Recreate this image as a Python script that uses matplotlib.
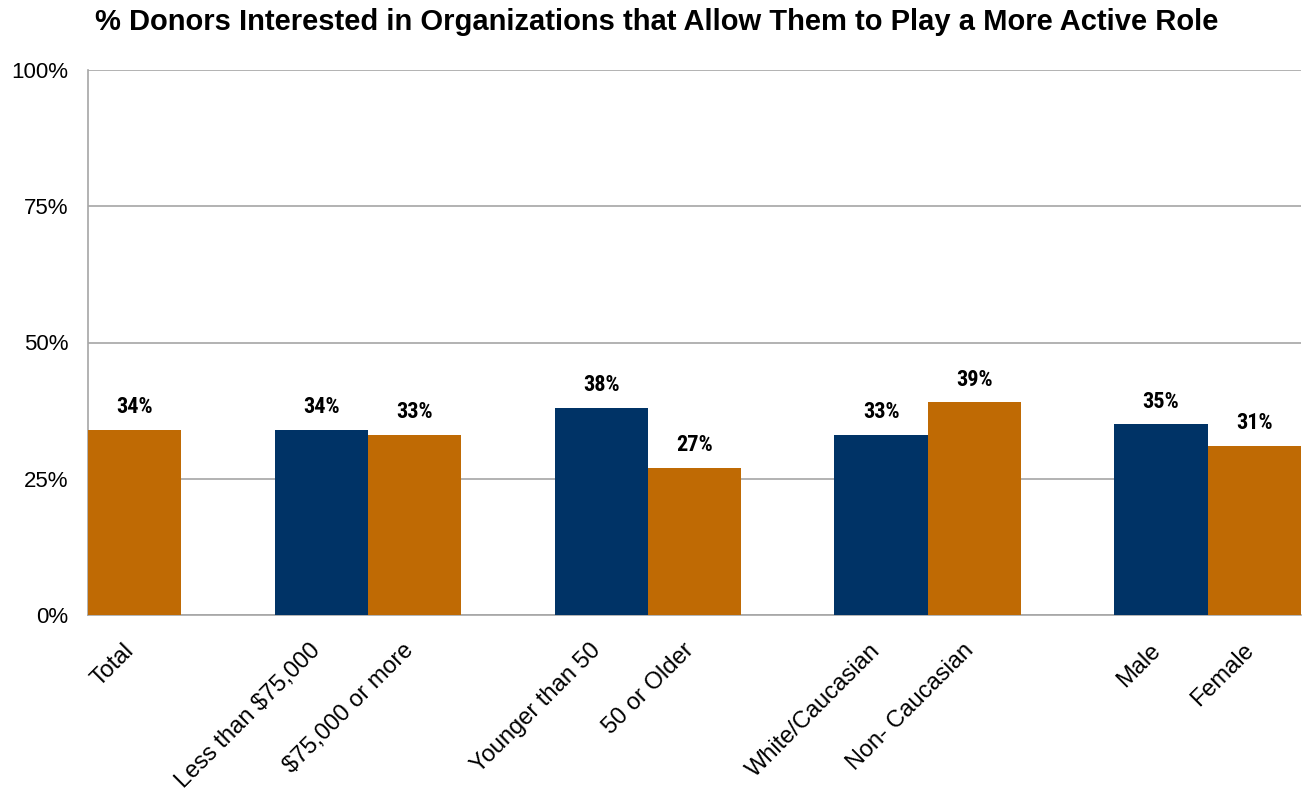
import matplotlib
matplotlib.use("Agg")
import matplotlib.pyplot as plt
from matplotlib import font_manager
from matplotlib.ticker import FuncFormatter

categories = ["Total", "", "Less than $75,000", "$75,000 or more", "",
              "Younger than 50", "50 or Older", "", "White/Caucasian",
              "Non- Caucasian", "", "Male", "Female"]
values = [34, None, 34, 33, None, 38, 27, None, 33, 39, None, 35, 31]
group_role = ["b", None, "a", "b", None, "a", "b", None, "a", "b", None, "a", "b"]
yticks = [0, 25, 50, 75, 100]
title = "% Donors Interested in Organizations that Allow Them to Play a More Active Role"

NAVY = "#003366"
ORANGE = "#BF6A04"
GRID = "#A6A6A6"

plt.rcParams["font.family"] = ["Liberation Sans", "DejaVu Sans"]


def has_font(name):
    try:
        font_manager.findfont(font_manager.FontProperties(family=name),
                              fallback_to_default=False)
        return True
    except Exception:
        return False


narrow = None
for cand in ["Liberation Sans Narrow", "Arial Narrow", "Roboto Condensed",
             "Open Sans Condensed", "DejaVu Sans Condensed"]:
    if has_font(cand):
        narrow = cand
        break
label_family = [narrow, "Liberation Sans"] if narrow else ["Liberation Sans"]
label_size = 16 if narrow else 14.5

W, H = 1304, 792
fig = plt.figure(figsize=(W / 100, H / 100), dpi=100)
ax = fig.add_axes([88 / W, 1 - 615 / H, (1301 - 88) / W, (615 - 70) / H])

for i, (v, r) in enumerate(zip(values, group_role)):
    if v is None:
        continue
    color = NAVY if r == "a" else ORANGE
    ax.bar(i, v, width=1.0, color=color, zorder=3)
    ax.annotate(f"{v}%", (i, v), xytext=(0, 12), textcoords="offset points",
                ha="center", va="baseline", fontsize=label_size,
                fontweight="bold", family=label_family)

ax.set_xlim(-0.5, len(categories) - 0.5)
ax.set_ylim(0, 100)
ax.set_yticks(yticks)
ax.yaxis.set_major_formatter(FuncFormatter(lambda v, p: f"{int(v)}%"))
ax.tick_params(axis="y", length=0, pad=14, labelsize=16)
ax.tick_params(axis="x", length=0)
ax.set_xticks([])
ax.grid(axis="y", color=GRID, linewidth=1.2, zorder=0)

for s in ["top", "right"]:
    ax.spines[s].set_visible(False)
for s in ["left", "bottom"]:
    ax.spines[s].set_color(GRID)
    ax.spines[s].set_linewidth(1.2)

for i, c in enumerate(categories):
    if not c:
        continue
    ax.annotate(c, (i, 0), xytext=(-3, -23), textcoords="offset points",
                rotation=45, rotation_mode="anchor", ha="right", va="center",
                fontsize=17)

fig.text(657 / W, 1 - 22 / H, title, ha="center", va="center",
         fontsize=21, fontweight="bold")

fig.savefig("out.png", dpi=100)
